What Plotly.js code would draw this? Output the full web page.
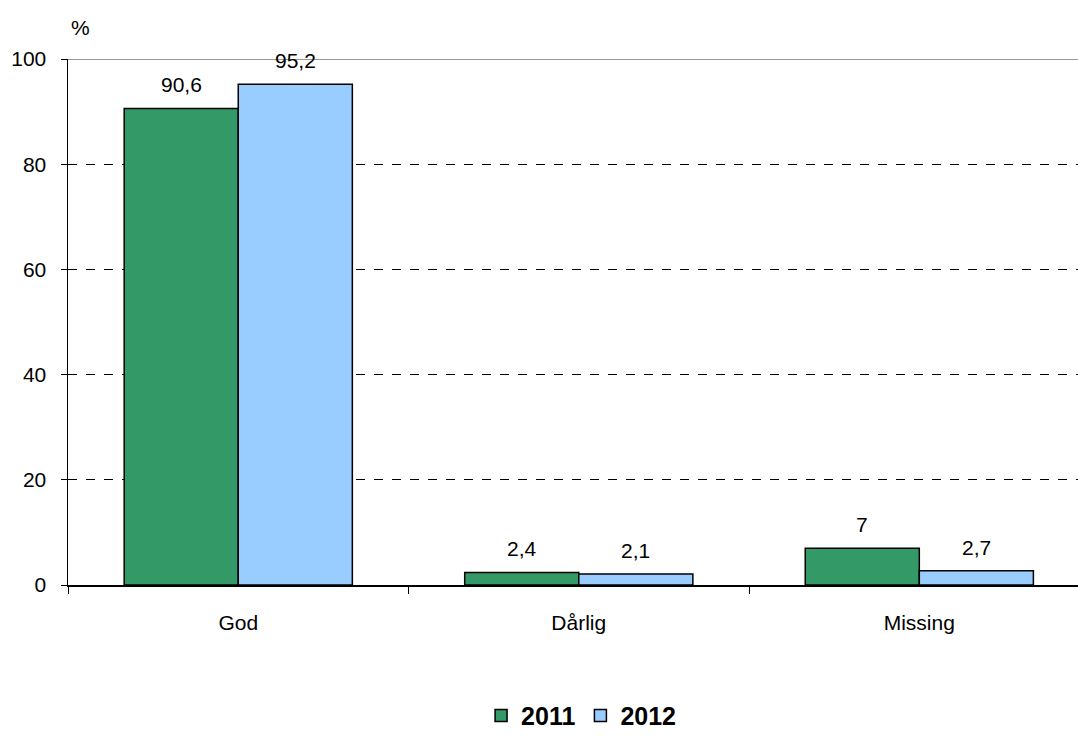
<!DOCTYPE html>
<html><head><meta charset="utf-8">
<script src="https://cdn.plot.ly/plotly-3.0.1.min.js"></script>
<style>html,body{margin:0;padding:0;background:#fff}</style>
</head><body><div id="chart" style="width:1078px;height:738px"></div>
<script>
const categories = ["God", "Dårlig", "Missing"];
const values2011 = [90.6, 2.4, 7];
const values2012 = [95.2, 2.1, 2.7];
const seriesNames = ["2011", "2012"];
const fmt = v => String(v).replace('.', ',');
const FONT = 'Arial, Liberation Sans, sans-serif';

const traces = [
  {type:'bar', x:categories, y:values2011, name:seriesNames[0],
    marker:{color:'#339966', line:{color:'#000', width:1.5}}},
  {type:'bar', x:categories, y:values2012, name:seriesNames[1],
    marker:{color:'#99CCFF', line:{color:'#000', width:1.5}}}
];
const annotations = [];
[[values2011, -57], [values2012, 57]].forEach(([vals, xs]) => {
  vals.forEach((v, i) => annotations.push({x:categories[i], y:v, xref:'x', yref:'y', text:fmt(v),
    showarrow:false, xshift:xs, yshift:10, yanchor:'bottom', font:{size:21, family:FONT}}));
});
annotations.push({text:'%', xref:'paper', yref:'paper', x:0, y:1, xanchor:'center', yanchor:'bottom',
  xshift:12, yshift:18, showarrow:false, font:{size:21, family:FONT}});

const layout = {
  width:1078, height:738,
  margin:{l:68, r:0, t:59, b:153},
  paper_bgcolor:'#fff', plot_bgcolor:'#fff',
  font:{family:FONT, size:21, color:'#000'},
  barmode:'group', bargap:0.33, bargroupgap:0,
  xaxis:{range:[-0.5, 2.466], showline:true, linecolor:'#000', linewidth:1.5,
    ticks:'outside', ticklen:7, tickcolor:'#000', tickson:'boundaries',
    showgrid:false, tickfont:{size:21}, ticklabelstandoff:18, fixedrange:true, automargin:false},
  yaxis:{range:[0,100], tickvals:[0,20,40,60,80,100], showline:true, linecolor:'#000', linewidth:1.5,
    ticks:'outside', ticklen:6, tickcolor:'#000', showgrid:true, gridcolor:'#000', griddash:'dash',
    gridwidth:1, zeroline:false, tickfont:{size:21}, ticklabelstandoff:10, automargin:false},
  showlegend:true,
  legend:{orientation:'h', x:0.508, xanchor:'center', yref:'container', y:0.03, yanchor:'middle',
    font:{size:25, family:FONT, weight:'bold'}, traceorder:'normal'},
  shapes:[{type:'line', xref:'paper', yref:'y', x0:0, x1:1, y0:100, y1:100,
    line:{color:'#999', width:2}, layer:'below'}],
  annotations:annotations
};
Plotly.newPlot('chart', traces, layout, {displayModeBar:false, staticPlot:true});
</script></body></html>
